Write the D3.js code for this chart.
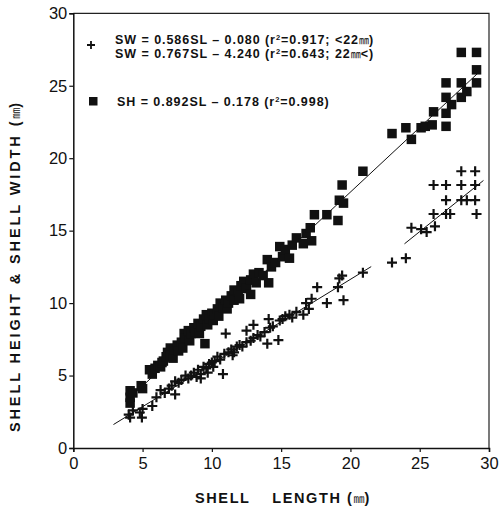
<!DOCTYPE html>
<html lang="en">
<head>
  <meta charset="UTF-8">
  <title>Shell height & width vs shell length</title>
  <style>
    body { margin: 0; padding: 0; background: #fff; }
    svg { display: block; }
    .tick text { font: 16.5px "Liberation Sans", Arial, sans-serif; fill: #111; }
    .lab { font: bold 12.5px "Liberation Sans", Arial, sans-serif; fill: #111; letter-spacing: 0.95px; }
    .title { font: bold 14.5px "Liberation Sans", Arial, sans-serif; fill: #111; letter-spacing: 1.6px; }
    .mm { font-family: "Noto Sans CJK JP", sans-serif; font-weight: normal; letter-spacing: 0; }
  </style>
</head>
<body>
<svg id="chart" width="501" height="511"></svg>
<script src="https://d3js.org/d3.v7.min.js"></script>
<script>
// shell height (squares): [shell length, shell height]
const shPoints = [
  [4.1,3.1],[4.1,3.5],[4.1,3.95],[4.3,3.8],[4.9,4.3],[5.0,4.1],
  [5.5,5.4],[5.7,5.1],[5.9,5.5],[6.1,5.7],[6.3,5.6],[6.4,5.9],[6.5,6.0],[6.7,6.3],[6.8,6.6],
  [7.0,6.9],[7.0,6.4],[7.2,6.2],[7.3,6.8],[7.5,7.1],[7.6,6.7],[7.8,7.3],[7.9,6.9],[8.0,7.9],[8.1,7.6],
  [8.3,8.1],[8.4,7.4],[8.5,7.9],[8.7,8.3],[8.8,8.0],[9.0,8.6],[9.1,7.9],[9.2,8.4],[9.4,8.9],[9.5,7.2],
  [9.6,9.2],[9.7,8.5],[9.8,8.9],[10.0,9.3],[10.1,8.8],[10.2,9.2],[10.4,9.6],[10.5,9.1],[10.6,10.0],[10.8,9.7],
  [11.0,10.2],[11.1,9.6],[11.2,10.0],[11.4,10.5],[11.6,10.2],[11.6,10.9],[11.9,10.8],[12.0,10.3],[12.1,11.2],
  [12.3,11.5],[12.5,11.0],[12.8,11.6],[12.8,10.6],[13.0,12.0],[13.2,11.4],[13.4,12.1],
  [13.7,11.9],[14.0,13.0],[14.1,11.4],[14.3,12.5],[14.6,12.8],[14.9,13.9],[15.1,13.2],
  [15.3,13.7],[15.6,13.1],[15.8,14.0],[16.1,14.5],[16.6,14.1],[16.8,14.8],[17.1,15.2],
  [17.2,14.3],[17.4,16.1],[18.3,16.1],[19.1,15.7],[19.2,17.1],[19.5,16.9],[19.4,18.15],
  [20.9,19.1],
  [23.0,21.7],[24.0,22.1],[24.4,21.3],[25.1,22.1],[25.4,22.2],[25.9,22.3],[26.0,23.2],
  [26.9,22.2],[26.9,23.1],[27.3,23.7],[26.9,24.2],[28.0,24.2],[28.4,24.6],[26.9,25.2],
  [28.0,25.2],[29.1,25.2],[29.1,26.1],[28.0,27.3],[29.1,27.3]
];

// shell width (crosses): [shell length, shell width]
const swPoints = [
  [4.0,2.3],[4.1,2.1],[4.3,2.6],[4.8,2.45],[4.95,2.1],[5.0,2.7],[5.7,2.9],[6.0,3.5],
  [6.3,4.0],[6.6,3.8],[6.9,4.1],[7.1,4.3],[7.35,3.7],[7.35,4.6],[7.6,4.5],[7.8,4.7],
  [8.1,5.0],[8.3,4.8],[8.5,5.0],[8.7,5.2],[8.9,4.9],[9.0,5.4],[9.2,5.1],[9.2,4.8],[9.4,5.6],
  [9.6,5.5],[9.7,5.2],[9.8,5.8],[10.0,5.9],[10.1,5.6],[10.2,6.0],[10.4,6.3],[10.6,6.1],[10.8,5.1],[10.9,6.5],
  [11.0,7.9],[11.2,6.6],[11.4,6.8],[11.5,6.4],[11.6,6.6],[11.8,7.0],[12.0,7.1],[12.2,7.0],[12.5,8.1],
  [12.5,7.3],[12.8,7.4],[13.0,8.5],[13.0,7.6],[13.3,7.8],[13.5,7.7],[13.8,8.0],[14.0,7.2],
  [14.1,8.9],[14.2,8.3],[14.4,8.4],[14.8,7.45],[14.9,8.8],[15.1,8.9],[15.3,9.1],[15.6,9.2],
  [15.8,9.0],[16.1,9.4],[16.6,9.2],[16.8,10.0],[17.0,9.6],[17.2,10.3],[17.6,11.1],
  [18.3,10.0],[19.1,11.1],[19.2,11.7],[19.4,11.9],[19.5,10.2],[20.9,12.1],
  [23.0,12.8],[24.0,13.1],[24.4,15.2],[25.1,15.1],[25.5,14.9],[26.1,15.3],[26.0,16.15],
  [26.9,16.15],[27.2,16.15],[29.1,16.15],[26.9,17.1],[28.0,17.1],[28.4,17.1],[29.0,17.1],
  [26.0,18.15],[26.9,18.15],[28.0,18.15],[29.0,18.15],[28.0,19.1],[29.0,19.1]
];

// regression lines: slope, intercept, SL range drawn
const fits = [
  { slope: 0.586, icpt: -0.080, from: 2.9,  to: 21.5 },
  { slope: 0.767, icpt: -4.240, from: 23.9, to: 29.6 },
  { slope: 0.892, icpt: -0.178, from: 3.8,  to: 29.3 }
];

const xTicks = [0, 5, 10, 15, 20, 25, 30];
const yTicks = [0, 5, 10, 15, 20, 25, 30];

const svg = d3.select("#chart");
const x = d3.scaleLinear().domain([0, 30]).range([73.3, 489]);
const y = d3.scaleLinear().domain([0, 30]).range([448, 13.3]);

// frame
svg.append("path")
  .attr("d", `M${x(0)},${y(30)}H${x(30)}V${y(0)}`)
  .attr("fill", "none").attr("stroke", "#222").attr("stroke-width", 1.2);

const gx = svg.append("g").attr("transform", `translate(0,${y(0)})`)
  .call(d3.axisBottom(x).tickValues(xTicks).tickSize(4).tickPadding(5));
const gy = svg.append("g").attr("transform", `translate(${x(0)},0)`)
  .call(d3.axisLeft(y).tickValues(yTicks).tickSize(4).tickPadding(2));
[gx, gy].forEach(g => {
  g.select(".domain").attr("stroke", "#111").attr("stroke-width", 1.5);
  g.selectAll(".tick line").attr("stroke", "#111").attr("stroke-width", 1.2);
});

// regression lines
const line = d3.line().x(d => x(d[0])).y(d => y(d[1]));
svg.append("g").selectAll("path")
  .data(fits)
  .join("path")
    .attr("d", f => line([[f.from, f.slope * f.from + f.icpt], [f.to, f.slope * f.to + f.icpt]]))
    .attr("fill", "none").attr("stroke", "#111").attr("stroke-width", 1);

// squares
const sq = 9.5;
svg.append("g").selectAll("rect")
  .data(shPoints)
  .join("rect")
    .attr("x", d => x(d[0]) - sq / 2)
    .attr("y", d => y(d[1]) - sq / 2)
    .attr("width", sq).attr("height", sq)
    .attr("fill", "#111");

// crosses
const crossPath = "M-5,0H5M0,-5V5";
svg.append("g").selectAll("path")
  .data(swPoints)
  .join("path")
    .attr("transform", d => `translate(${x(d[0])},${y(d[1])})`)
    .attr("d", crossPath)
    .attr("stroke", "#111").attr("stroke-width", 2.2).attr("fill", "none");

// legend
svg.append("path").attr("transform", "translate(91,45)")
  .attr("d", "M-4,0H4M0,-4V4").attr("stroke", "#111").attr("stroke-width", 1.8);
svg.append("rect").attr("x", 89).attr("y", 97).attr("width", 8.5).attr("height", 8.5).attr("fill", "#111");

function eqLine(yPos, xPos, main, r2, tail) {
  const t = svg.append("text").attr("class", "lab").attr("x", xPos).attr("y", yPos);
  t.append("tspan").text(main + "  (r");
  t.append("tspan").attr("dy", -4).attr("font-size", "7.5px").text("2");
  t.append("tspan").attr("dy", 4).text("=" + r2 + (tail ? ";  " : ")"));
  if (tail) tail(t);
}
eqLine(44, 115, "SW = 0.586SL  \u2013  0.080", "0.917", t => {
  t.append("tspan").text("<22");
  t.append("tspan").attr("class", "mm").attr("font-size", "10px").text("\u339C");
  t.append("tspan").text(")");
});
eqLine(58, 115, "SW = 0.767SL  \u2013  4.240", "0.643", t => {
  t.append("tspan").text("22");
  t.append("tspan").attr("class", "mm").attr("font-size", "10px").text("\u339C");
  t.append("tspan").text("<)");
});
eqLine(106, 117, "SH = 0.892SL  \u2013  0.178", "0.998", null);

// axis titles
const xt = svg.append("text").attr("class", "title")
  .attr("x", 283).attr("y", 503).attr("text-anchor", "middle");
xt.append("tspan").text("SHELL\u2003 LENGTH (");
xt.append("tspan").attr("class", "mm").attr("font-size", "11px").text("\u339C");
xt.append("tspan").text(")");

const yt = svg.append("text").attr("class", "title")
  .attr("transform", "translate(20,266) rotate(-90)").attr("text-anchor", "middle")
  .style("letter-spacing", "2.9px");
yt.append("tspan").text("SHELL HEIGHT & SHELL WIDTH (");
yt.append("tspan").attr("class", "mm").attr("font-size", "11px").text("\u339C");
yt.append("tspan").text(")");
</script>
</body>
</html>
